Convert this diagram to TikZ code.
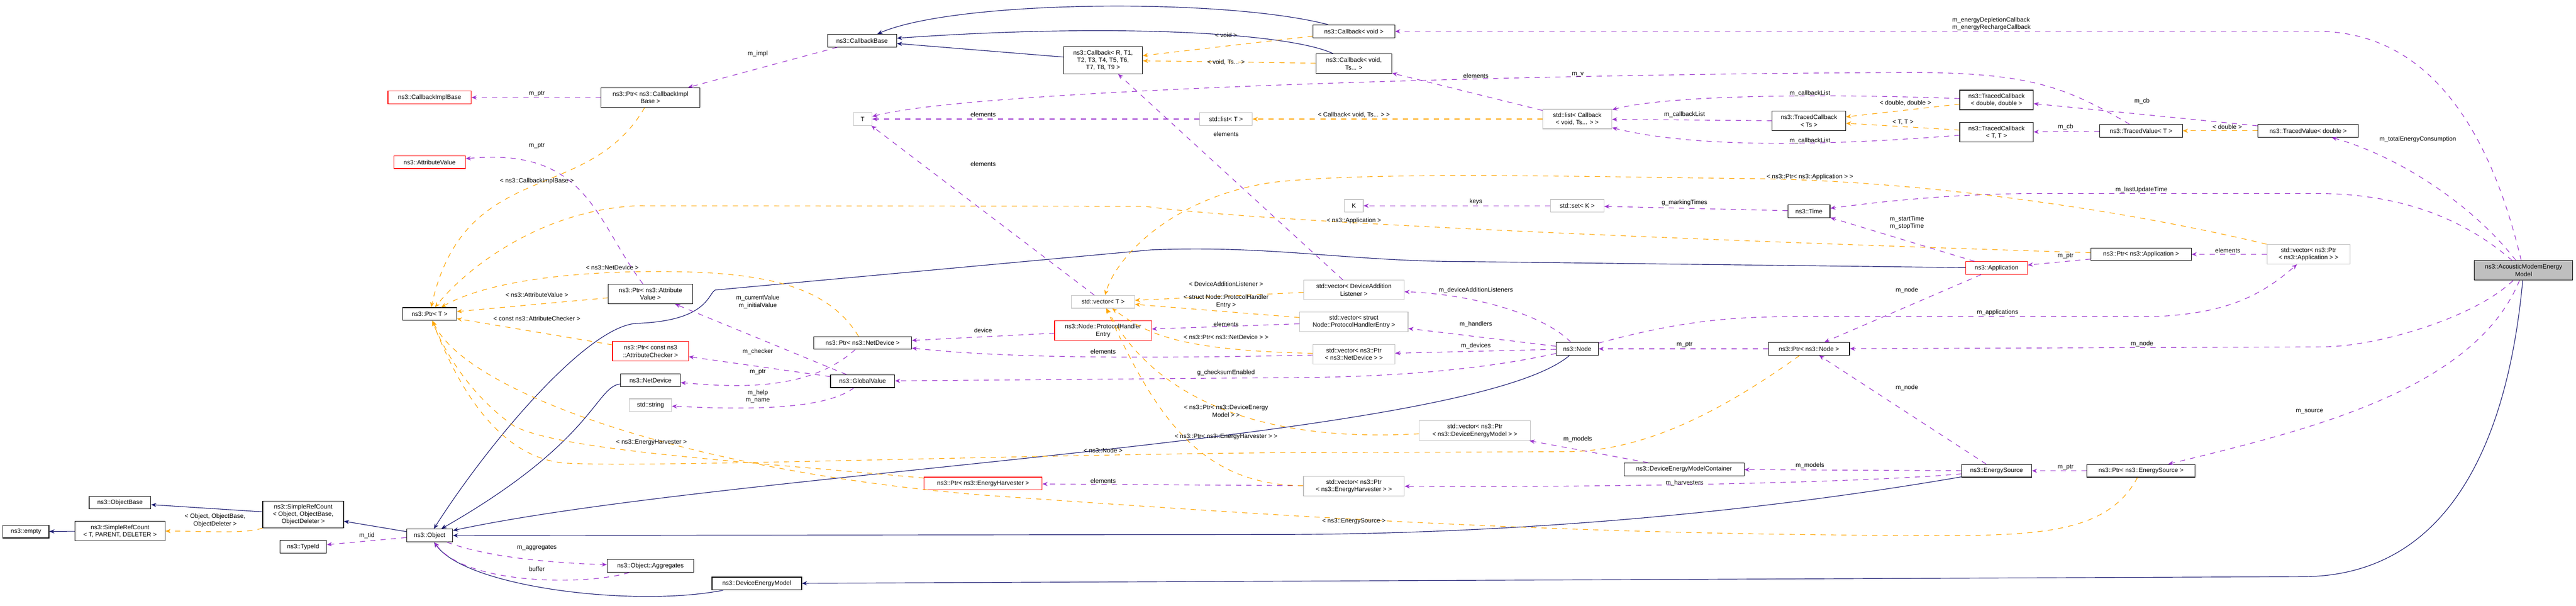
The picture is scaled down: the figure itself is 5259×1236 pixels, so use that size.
\documentclass[tikz,border=0pt]{standalone}
\usepackage{fontspec}
\setmainfont{Liberation Sans}
\usetikzlibrary{arrows.meta}
\definecolor{navy}{HTML}{191970}
\definecolor{usecol}{HTML}{9A32CD}
\definecolor{tplcol}{HTML}{FFA500}
\definecolor{grayline}{HTML}{BFBFBF}

\begin{document}
\begin{tikzpicture}
            [
            x=0.01cm, y=-0.01cm,
            every node/.style={font=\fontsize{3.6}{4.3}\selectfont, inner sep=0pt},
            sz/.style 2 args={minimum width=#1*0.01cm, minimum height=#2*0.01cm},
            box/.style={draw=black, fill=white, align=center, line width=0.35pt},
            red box/.style={box, draw=red},
            gray box/.style={box, draw=grayline},
            main box/.style={box, fill=grayline},
            lbl/.style={align=center},
            inh/.style={draw=navy, line width=0.35pt, -{Stealth[length=3pt,width=2.4pt]}},
            use/.style={draw=usecol, dashed, line width=0.35pt, -{Stealth[length=3pt,width=2.4pt]}},
            tpl/.style={draw=tplcol, dashed, line width=0.35pt, -{Stealth[length=3pt,width=2.4pt]}}
            ]
            \useasboundingbox (0,0) rectangle (5259,1236);

            % left part
            \node (cib) [red box, sz={170}{26}] at (877,199) {ns3::CallbackImplBase};
            \node (av) [red box, sz={146}{26}] at (877,331) {ns3::AttributeValue};
            \node (ptrt) [box, sz={110}{26}] at (877,641) {ns3::Ptr< T >};
            \node (objbase) [box, sz={126}{26}] at (245,1026) {ns3::ObjectBase};
            \node (srcobj) [box, sz={165}{55}] at (619,1050) {ns3::SimpleRefCount\\< Object, ObjectBase,\\ObjectDeleter >};
            \node (empty) [box, sz={94}{26}] at (53,1085) {ns3::empty};
            \node (srct) [box, sz={184}{40}] at (245,1084) {ns3::SimpleRefCount\\< T, PARENT, DELETER >};
            \node (typeid) [box, sz={95}{26}] at (619,1116) {ns3::TypeId};
            \node (object) [box, sz={94}{26}] at (877,1093) {ns3::Object};

            % middle part
            \node (cbbase) [box, sz={141}{26}] at (1760,83) {ns3::CallbackBase};
            \node (ptrcib) [box, sz={202}{40}] at (1328,199) {ns3::Ptr< ns3::CallbackImpl\\Base >};
            \node (cbr) [box, sz={161}{55}] at (2252,123) {ns3::Callback< R, T1,\\T2, T3, T4, T5, T6,\\T7, T8, T9 >};
            \node (tt) [gray box, sz={38}{26}] at (1761,243) {T};
            \node (listt) [gray box, sz={107}{26}] at (2503,243) {std::list< T >};
            \node (vect) [gray box, sz={129}{26}] at (2252,616) {std::vector< T >};
            \node (ptrav) [box, sz={173}{40}] at (1328,600) {ns3::Ptr< ns3::Attribute\\Value >};
            \node (phe) [red box, sz={198}{40}] at (2252,675) {ns3::Node::ProtocolHandler\\Entry};
            \node (ptrnd) [box, sz={200}{26}] at (1761,700) {ns3::Ptr< ns3::NetDevice >};
            \node (ptrcac) [red box, sz={155}{40}] at (1328,717) {ns3::Ptr< const ns3\\::AttributeChecker >};
            \node (netdev) [box, sz={122}{26}] at (1328,776) {ns3::NetDevice};
            \node (gv) [box, sz={131}{26}] at (1761,778) {ns3::GlobalValue};
            \node (str) [gray box, sz={86}{26}] at (1328,827) {std::string};
            \node (ptreh) [red box, sz={241}{26}] at (2007,987) {ns3::Ptr< ns3::EnergyHarvester >};
            \node (aggr) [box, sz={177}{26}] at (1328,1155) {ns3::Object::Aggregates};
            \node (dem) [box, sz={183}{26}] at (1545,1191) {ns3::DeviceEnergyModel};

            % right part
            \node (cbvoid) [box, sz={167}{26}] at (2764,64) {ns3::Callback< void >};
            \node (cbvoidts) [box, sz={155}{40}] at (2764,130) {ns3::Callback< void,\\Ts... >};
            \node (listcb) [gray box, sz={141}{40}] at (3220,243) {std::list< Callback\\< void, Ts... > >};
            \node (tcts) [box, sz={150}{40}] at (3693,247) {ns3::TracedCallback\\< Ts >};
            \node (kk) [gray box, sz={38}{26}] at (2764,420) {K};
            \node (setk) [gray box, sz={109}{26}] at (3220,420) {std::set< K >};
            \node (time) [box, sz={86}{26}] at (3693,431) {ns3::Time};
            \node (vecdal) [gray box, sz={205}{40}] at (2764,592) {std::vector< DeviceAddition\\Listener >};
            \node (vecphe) [gray box, sz={221}{40}] at (2764,657) {std::vector< struct\\Node::ProtocolHandlerEntry >};
            \node (vecnd) [gray box, sz={167}{40}] at (2764,723) {std::vector< ns3::Ptr\\< ns3::NetDevice > >};
            \node (node) [box, sz={86}{26}] at (3220,712) {ns3::Node};
            \node (ptrnode) [box, sz={166}{26}] at (3693,712) {ns3::Ptr< ns3::Node >};
            \node (vecdem) [gray box, sz={227}{40}] at (3011,879) {std::vector< ns3::Ptr\\< ns3::DeviceEnergyModel > >};
            \node (demc) [box, sz={245}{26}] at (3438,958) {ns3::DeviceEnergyModelContainer};
            \node (veceh) [gray box, sz={206}{40}] at (2764,992) {std::vector< ns3::Ptr\\< ns3::EnergyHarvester > >};
            \node (tcdd) [box, sz={150}{40}] at (4076,204) {ns3::TracedCallback\\< double, double >};
            \node (tctt) [box, sz={150}{40}] at (4076,270) {ns3::TracedCallback\\< T, T >};
            \node (tvt) [box, sz={169}{26}] at (4371,267) {ns3::TracedValue< T >};
            \node (tvd) [box, sz={205}{26}] at (4712,267) {ns3::TracedValue< double >};
            \node (ptrapp) [box, sz={205}{26}] at (4371,519) {ns3::Ptr< ns3::Application >};
            \node (app) [red box, sz={126}{26}] at (4076,547) {ns3::Application};
            \node (vecapp) [gray box, sz={170}{40}] at (4713,519) {std::vector< ns3::Ptr\\< ns3::Application > >};
            \node (acoustic) [main box, sz={201}{40}] at (5152,552) {ns3::AcousticModemEnergy\\Model};
            \node (es) [box, sz={143}{26}] at (4076,961) {ns3::EnergySource};
            \node (ptres) [box, sz={221}{26}] at (4371,961) {ns3::Ptr< ns3::EnergySource >};

            % inheritance
            \draw [inh] (srcobj) -- (objbase);
            \draw [inh] (srct) -- (empty);
            \draw [inh] (object) -- (srcobj);
            \draw [inh] (netdev) .. controls (1215,790) and (1215,900) .. (object);
            \draw [inh] (node) .. controls (3000,900) and (1500,960) .. (object);
            \draw [inh] (app) -- (3000,534) .. controls (2750,534) and (2600,500) .. (2350,510)
                -- (1460,592) .. controls (1445,600) and (1445,655) .. (1300,660)
                .. controls (1200,665) and (1000,900) .. (object);
            \draw [inh] (es) .. controls (3500,1060) and (3000,1091) .. (2600,1091) -- (object);
            \draw [inh] (dem) .. controls (1300,1240) and (950,1200) .. (object);
            \draw [inh] (acoustic) .. controls (5120,900) and (5000,1177) .. (4700,1177) -- (dem);
            \draw [inh] (cbr) -- (cbbase);
            \draw [inh] (cbvoid) .. controls (2500,-5) and (1950,0) .. (cbbase);
            \draw [inh] (cbvoidts) .. controls (2640,70) and (2300,45) .. (cbbase);

            % usage
            \draw [use] (ptrcib) -- (cib);
            \draw [use] (cbbase) -- (ptrcib);
            \draw [use] (ptrav) .. controls (1215,450) and (1200,300) .. (av);
            \draw [use] (gv) -- (ptrav);
            \draw [use] (gv) -- (ptrcac);
            \draw [use] (ptrnd) .. controls (1650,800) and (1500,790) .. (netdev);
            \draw [use] (gv) .. controls (1680,840) and (1500,835) .. (str);
            \draw [use] (object) -- (typeid);
            \draw [use] (object) .. controls (1000,1140) and (1150,1150) .. (aggr);
            \draw [use] (aggr) .. controls (1200,1195) and (950,1195) .. (object);
            \draw [use] (listt) -- (tt);
            \draw [use] (vect) -- (tt);
            \draw [use] (vecdal) -- (cbr);
            \draw [use] (listcb) -- (cbvoidts);
            \draw [use] (tvt) .. controls (4220,180) and (4150,148) .. (3900,148)
                .. controls (3200,150) and (2000,180) .. (tt);
            \draw [use] (tcts) -- (listcb);
            \draw [use] (tcdd) .. controls (3700,190) and (3400,195) .. (listcb);
            \draw [use] (tctt) .. controls (3700,300) and (3450,300) .. (listcb);
            \draw [use] (tvd) -- (tcdd);
            \draw [use] (tvt) -- (tctt);
            \draw [use] (acoustic) .. controls (5050,420) and (4900,320) .. (tvd);
            \draw [use] (acoustic) .. controls (5080,250) and (4950,64) .. (4730,64) -- (cbvoid);
            \draw [use] (acoustic) .. controls (5000,420) and (4850,395) .. (4730,395) -- (4160,395)
                .. controls (4000,395) and (3850,410) .. (time);
            \draw [use] (setk) -- (kk);
            \draw [use] (time) -- (setk);
            \draw [use] (app) -- (time);
            \draw [use] (ptrapp) -- (app);
            \draw [use] (vecapp) -- (ptrapp);
            \draw [use] (node) .. controls (3450,650) and (3550,646) .. (3700,646) -- (4400,646)
                .. controls (4550,640) and (4620,600) .. (vecapp);
            \draw [use] (app) -- (ptrnode);
            \draw [use] (ptrnode) -- (node);
            \draw [use] (acoustic) .. controls (5050,650) and (4850,708) .. (4740,708) -- (ptrnode);
            \draw [use] (node) .. controls (3150,640) and (3000,600) .. (vecdal);
            \draw [use] (node) -- (vecphe);
            \draw [use] (node) -- (vecnd);
            \draw [use] (node) .. controls (3000,760) and (2800,771) .. (2600,771) -- (gv);
            \draw [use] (vecphe) -- (phe);
            \draw [use] (phe) -- (ptrnd);
            \draw [use] (vecnd) .. controls (2200,735) and (2000,725) .. (ptrnd);
            \draw [use] (demc) -- (vecdem);
            \draw [use] (es) -- (demc);
            \draw [use] (es) .. controls (3800,985) and (3300,995) .. (veceh);
            \draw [use] (veceh) -- (ptreh);
            \draw [use] (es) -- (ptrnode);
            \draw [use] (ptres) -- (es);
            \draw [use] (acoustic) .. controls (5050,800) and (4700,880) .. (ptres);

            % templates
            \draw [tpl] (ptrcib) .. controls (1200,420) and (950,320) .. (ptrt);
            \draw [tpl] (ptrav) -- (ptrt);
            \draw [tpl] (ptrcac) -- (ptrt);
            \draw [tpl] (ptrnd) .. controls (1700,600) and (1600,560) .. (1400,555)
                .. controls (1200,550) and (1000,570) .. (ptrt);
            \draw [tpl] (ptreh) .. controls (1500,940) and (1150,920) .. (1050,870)
                .. controls (950,800) and (900,700) .. (ptrt);
            \draw [tpl] (ptrnode) .. controls (3500,850) and (3350,920) .. (3200,922) -- (2600,924)
                .. controls (2000,930) and (1300,955) .. (1150,945)
                .. controls (1000,930) and (920,750) .. (ptrt);
            \draw [tpl] (ptrapp) .. controls (3600,495) and (2600,457) .. (2336,421) -- (1300,420)
                .. controls (1100,430) and (950,550) .. (ptrt);
            \draw [tpl] (ptres) .. controls (4300,1094) and (4150,1094) .. (3900,1093)
                .. controls (3200,1090) and (2700,1060) .. (2000,1010)
                .. controls (1400,960) and (950,800) .. (ptrt);
            \draw [tpl] (srcobj) .. controls (500,1090) and (420,1084) .. (srct);
            \draw [tpl] (cbvoid) -- (cbr);
            \draw [tpl] (cbvoidts) -- (cbr);
            \draw [tpl] (listcb) -- (listt);
            \draw [tpl] (tcdd) -- (tcts);
            \draw [tpl] (tctt) -- (tcts);
            \draw [tpl] (tvd) -- (tvt);
            \draw [tpl] (vecdal) -- (vect);
            \draw [tpl] (vecphe) -- (vect);
            \draw [tpl] (vecnd) .. controls (2400,715) and (2340,680) .. (vect);
            \draw [tpl] (vecdem) .. controls (2550,905) and (2350,800) .. (vect);
            \draw [tpl] (veceh) .. controls (2450,990) and (2360,850) .. (vect);
            \draw [tpl] (vecapp) .. controls (4300,420) and (3900,370) .. (3600,365)
                .. controls (3200,360) and (2800,350) .. (2600,372)
                .. controls (2400,400) and (2280,520) .. (vect);

            % labels
            \foreach \n/\x/\y/\t in {
                1/1096/191/m\_ptr, 2/1547/110/m\_impl, 3/1096/298/m\_ptr,
                4/1096/370/{< ns3::CallbackImplBase >}, 5/1096/602/{< ns3::AttributeValue >},
                6/1096/650/{< const ns3::AttributeChecker >}, 7/1250/546/{< ns3::NetDevice >},
                8/1330/903/{< ns3::EnergyHarvester >}, 9/439/1062/{< Object, ObjectBase,\\ObjectDeleter >},
                10/749/1093/m\_tid, 11/1096/1118/m\_aggregates, 12/1096/1161/buffer,
                13/1547/616/{m\_currentValue\\m\_initialValue}, 14/1547/718/m\_checker,
                15/1547/759/m\_ptr, 16/1547/809/{m\_help\\m\_name},
                17/2503/72/{< void >}, 18/2503/127/{< void, Ts... >}, 19/2007/234/elements,
                20/2503/274/elements, 21/2007/335/elements, 22/2503/580/{< DeviceAdditionListener >},
                23/2503/615/{< struct Node::ProtocolHandler\\Entry >}, 24/2007/674/device,
                25/2503/662/elements, 26/2503/688/{< ns3::Ptr< ns3::NetDevice > >},
                27/2252/718/elements, 28/2503/761/g\_checksumEnabled,
                29/2503/839/{< ns3::Ptr< ns3::DeviceEnergy\\Model > >},
                30/2503/891/{< ns3::Ptr< ns3::EnergyHarvester > >}, 31/2252/919/{< ns3::Node >},
                32/2252/981/elements, 33/3013/155/elements, 34/3221/152/m\_v,
                35/3695/191/m\_callbackList, 36/2764/234/{< Callback< void, Ts... > >},
                37/3439/234/m\_callbackList, 38/3695/287/m\_callbackList,
                39/3890/210/{< double, double >}, 40/3885/249/{< T, T >},
                41/3695/361/{< ns3::Ptr< ns3::Application > >}, 42/3013/412/keys,
                43/3439/414/g\_markingTimes, 44/2764/451/{< ns3::Application >},
                45/3893/455/{m\_startTime\\m\_stopTime}, 46/3013/592/m\_deviceAdditionListeners,
                47/3893/592/m\_node, 48/3013/662/m\_handlers, 49/3013/706/m\_devices,
                50/3439/704/m\_ptr, 51/3221/896/m\_models, 52/3695/950/m\_models,
                53/3439/986/m\_harvesters, 54/2764/1064/{< ns3::EnergySource >},
                55/3893/791/m\_node, 56/4373/207/m\_cb, 57/4217/259/m\_cb, 58/4547/259/{< double >},
                59/4936/284/m\_totalEnergyConsumption, 60/4372/387/m\_lastUpdateTime,
                61/4548/511/elements, 62/4217/523/m\_ptr, 63/4078/638/m\_applications,
                64/4373/702/m\_node, 65/4715/840/m\_source, 66/4217/954/m\_ptr}
            \node (lab\n) [lbl] at (\x,\y) {\t};
            \node (lab67) [lbl, align=left, anchor=west] at (3985,49) {m\_energyDepletionCallback\\m\_energyRechargeCallback};
        \end{tikzpicture}
\end{document}
